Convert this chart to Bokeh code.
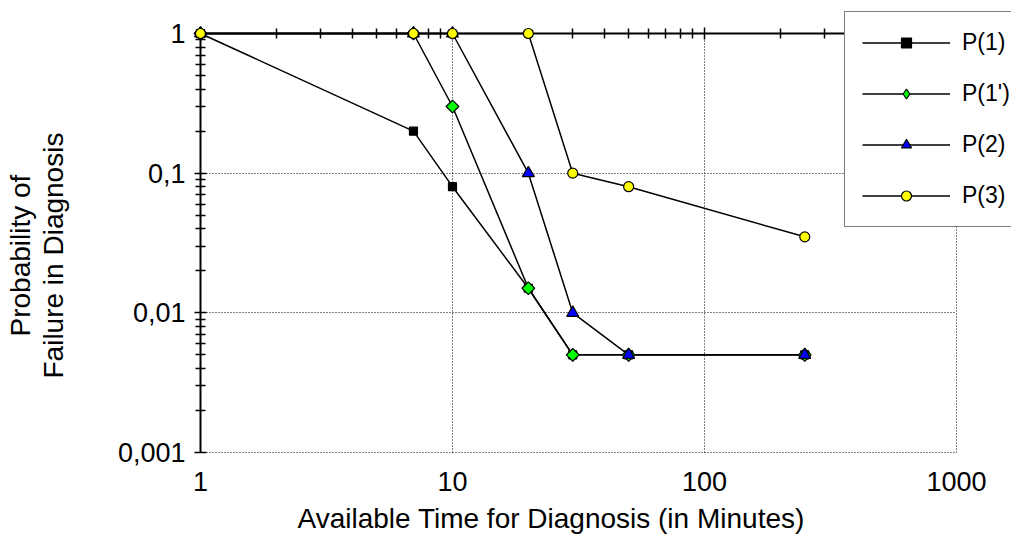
from bokeh.plotting import figure
from bokeh.models import (FixedTicker, LogAxis, Range1d, Legend, LegendItem, Grid, Title)
from bokeh.embed import file_html
from bokeh.resources import INLINE

# ---- data ----
time_p1 = [1, 7, 10, 20, 30, 50, 250]
prob_p1 = [1, 0.2, 0.08, 0.015, 0.005, 0.005, 0.005]

time_p1b = [1, 7, 10, 20, 30, 50, 250]
prob_p1b = [1, 1, 0.3, 0.015, 0.005, 0.005, 0.005]

time_p2 = [1, 7, 10, 20, 30, 50, 250]
prob_p2 = [1, 1, 1, 0.1, 0.01, 0.005, 0.005]

time_p3 = [1, 7, 10, 20, 30, 50, 250]
prob_p3 = [1, 1, 1, 1, 0.1, 0.08, 0.035]

series_names = ["P(1)", "P(1')", "P(2)", "P(3)"]

x_ticks = [1, 10, 100, 1000]
x_tick_labels = ["1", "10", "100", "1000"]
y_ticks = [0.001, 0.01, 0.1, 1]
y_tick_labels = ["0,001", "0,01", "0,1", "1"]
x_grid_ticks = [10, 100, 1000]
y_grid_ticks = [0.001, 0.01, 0.1]
x_minor = [k * 10 ** e for e in (0, 1, 2) for k in range(2, 10)]
y_minor = [k * 10.0 ** e for e in (-3, -2, -1) for k in range(2, 10)]

x_title = "Available Time for Diagnosis (in Minutes)"
y_title_lines = ["Probability of", "Failure in Diagnosis"]

FONT = "Liberation Sans"
W, H = 1019, 551
LEFT, RIGHT, TOP, BOTTOM = 192, 8, 8, 96

p = figure(x_axis_type="log", y_axis_type="log",
           x_range=Range1d(10 ** -0.0317, 10 ** 3.2183),
           y_range=Range1d(10 ** -3.0215, 10 ** 0.1789),
           width=W, height=H,
           min_border_left=LEFT, min_border_right=RIGHT,
           min_border_top=TOP, min_border_bottom=BOTTOM,
           output_backend="svg", toolbar_location=None,
           outline_line_color=None, background_fill_color="white")

# ---- left labels axis (labels only) ----
ya = p.yaxis[0]
ya.ticker = FixedTicker(ticks=y_ticks, minor_ticks=[])
ya.major_label_overrides = dict(zip(y_ticks, y_tick_labels))
ya.axis_line_color = None
ya.major_tick_line_color = None
ya.minor_tick_line_color = None
ya.major_tick_in = 0
ya.major_tick_out = 0
ya.minor_tick_in = 0
ya.minor_tick_out = 0
ya.major_label_standoff = 7
ya.major_label_text_font = FONT
ya.major_label_text_font_size = "27px"
ya.major_label_text_color = "black"

# ---- bottom labels axis (labels only) ----
xa = p.xaxis[0]
xa.ticker = FixedTicker(ticks=x_ticks, minor_ticks=[])
xa.major_label_overrides = dict(zip(x_ticks, x_tick_labels))
xa.axis_line_color = None
xa.major_tick_line_color = None
xa.minor_tick_line_color = None
xa.major_tick_out = 0
xa.major_tick_in = 0
xa.minor_tick_in = 0
xa.minor_tick_out = 0
xa.major_label_standoff = 16
xa.major_label_text_font = FONT
xa.major_label_text_font_size = "27px"
xa.major_label_text_color = "black"

# ---- axis titles ----
p.add_layout(Title(text=x_title, align="left", offset=105, standoff=19,
                   vertical_align="top",
                   text_font=FONT, text_font_size="28px", text_font_style="normal",
                   text_color="black"), "below")
# spacer between the tick labels and the y title
p.add_layout(Title(text=" ", text_font=FONT, text_font_size="10px", standoff=32), "left")
p.add_layout(Title(text=y_title_lines[1], align="left", offset=77, standoff=0,
                   vertical_align="middle",
                   text_font=FONT, text_font_size="28px", text_font_style="normal",
                   text_color="black"), "left")
p.add_layout(Title(text=y_title_lines[0], align="left", offset=119, standoff=0,
                   vertical_align="middle",
                   text_font=FONT, text_font_size="28px", text_font_style="normal",
                   text_color="black"), "left")

# ---- axis lines crossing at x = 1 and y = 1 (lines + ticks only) ----
common = dict(axis_line_width=2, axis_line_color="black",
              major_tick_in=6, major_tick_out=6, minor_tick_in=5, minor_tick_out=5,
              major_tick_line_width=1.5, minor_tick_line_width=1.5,
              major_tick_line_color="black", minor_tick_line_color="black",
              major_label_text_font_size="1px", major_label_standoff=0)
y_line_axis = LogAxis(ticker=FixedTicker(ticks=y_ticks, minor_ticks=y_minor),
                      fixed_location=1, bounds=(0.001, 1),
                      major_label_overrides={t: "" for t in y_ticks}, **common)
p.add_layout(y_line_axis, "right")
x_line_axis = LogAxis(ticker=FixedTicker(ticks=x_ticks, minor_ticks=x_minor),
                      fixed_location=1, bounds=(1, 1000),
                      major_label_overrides={t: "" for t in x_ticks}, **common)
p.add_layout(x_line_axis, "above")

# ---- dotted grid ----
p.xgrid[0].ticker = FixedTicker(ticks=x_grid_ticks, minor_ticks=[])
p.ygrid[0].ticker = FixedTicker(ticks=y_grid_ticks, minor_ticks=[])
for g in (p.xgrid[0], p.ygrid[0]):
    g.grid_line_color = "black"
    g.grid_line_width = 1
    g.grid_line_dash = "1 2"
if "cross_bounds" in Grid.properties():
    p.xgrid[0].cross_bounds = (0.001, 1)
    p.ygrid[0].cross_bounds = (1, 1000)

# ---- series ----
specs = [
    (time_p1, prob_p1, "square", 8, 0.0, "black", "square"),
    (time_p1b, prob_p1b, "square", 9, 0.785398, "#00ff00", "diamond"),
    (time_p2, prob_p2, "triangle", 12, 0.0, "#0000ff", "triangle"),
    (time_p3, prob_p3, "circle", 10, 0.0, "#ffff00", "circle"),
]
items = []
for (xs, ys, mk, sz, ang, fc, legend_mk), name in zip(specs, series_names):
    ln = p.line(xs, ys, line_color="black", line_width=1.5)
    legend_r = None
    if legend_mk != mk:
        # diamond shape used for the legend key; drawn beneath the rotated squares
        legend_r = p.scatter(xs, ys, marker=legend_mk, size=sz,
                             fill_color=fc, line_color="black", line_width=1.2)
    sc = p.scatter(xs, ys, marker=mk, size=sz, angle=ang,
                   fill_color=fc, line_color="black", line_width=1.2, level="overlay")
    items.append(LegendItem(label=name, renderers=[ln, legend_r or sc]))

legend = Legend(items=items, location=(844 - LEFT, 228), margin=0,
                padding=17, spacing=24, glyph_width=88, glyph_height=25,
                label_height=20, label_standoff=12,
                label_text_font=FONT, label_text_font_size="23px",
                label_text_color="black",
                border_line_color="black", border_line_width=1.5,
                background_fill_color="white", background_fill_alpha=1.0)
p.add_layout(legend)

open("out.html", "w").write(file_html(p, INLINE))
